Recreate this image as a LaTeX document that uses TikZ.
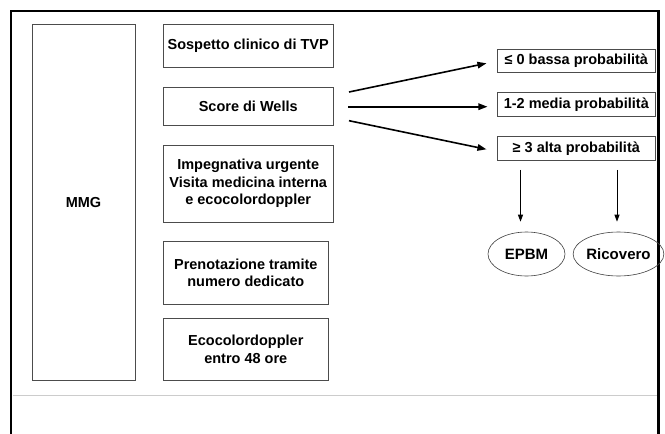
\documentclass[tikz,border=0pt]{standalone}
\usepackage{fontspec}
\setmainfont{Liberation Sans}
\usetikzlibrary{calc,arrows.meta,shapes.geometric}
\begin{document}
\begin{tikzpicture}[x=1pt,y=-1pt,
  boxnode/.style={draw=black!70,line width=0.9pt,rectangle,inner sep=0pt,align=center,
    font=\fontsize{14.5}{17.5}\selectfont\bfseries},
  ovalnode/.style={draw=black!75,line width=0.6pt,ellipse,inner sep=0pt,
    minimum width=77pt,minimum height=44pt,font=\fontsize{15}{18}\selectfont\bfseries},
  diagarrow/.style={line width=1.6pt,-{Triangle[length=9pt,width=6.5pt]}},
  downarrow/.style={line width=1pt,-{Triangle[length=7pt,width=5pt]}}]
\useasboundingbox (0,0) rectangle (665,434);
% frame
\draw[line width=2.5pt] (11.2,440) -- (11.2,11.2) -- (658.5,11.2) -- (658.5,440);
\draw[black!20,line width=1pt] (12.5,395.3) -- (657.2,395.3);
% left column
\node[boxnode,minimum width=103pt,minimum height=356pt] (mmg) at (83.5,202.5) {MMG};
\node[boxnode,minimum width=169.7pt,minimum height=43pt] (sosp) at (248.2,45.8) {Sospetto clinico di TVP};
\node[boxnode,minimum width=169.7pt,minimum height=38.4pt] (score) at (248.2,106.5) {Score di Wells};
\node[boxnode,minimum width=169.7pt,minimum height=77.3pt] (imp) at (248.2,183.7) {Impegnativa urgente\\Visita medicina interna\\e ecocolordoppler};
\node[boxnode,minimum width=165pt,minimum height=62.7pt] (pren) at (245.8,272.7) {Prenotazione tramite\\numero dedicato};
\node[boxnode,minimum width=165pt,minimum height=62.4pt] (eco) at (245.8,349.5) {Ecocolordoppler\\entro 48 ore};
% right column
\node[boxnode,minimum width=157.8pt,minimum height=23.3pt] (low) at (576.3,60.7) {≤ 0 bassa probabilità};
\node[boxnode,minimum width=157.8pt,minimum height=24pt] (mid) at (576.3,104.7) {1-2 media probabilità};
\node[boxnode,minimum width=157.8pt,minimum height=24pt] (high) at (576.3,148.3) {≥ 3 alta probabilità};
\node[ovalnode] (epbm) at (526.5,254) {EPBM};
\node[ovalnode] (ric) at (618.5,254) {Ricovero};
% arrows
\draw[diagarrow] ($(score.east)+(15.5,-14.5)$) -- ($(low.west)+(-10.5,2.6)$);
\draw[diagarrow] ($(score.east)+(14.7,0.2)$) -- ($(mid.west)+(-9.5,2)$);
\draw[diagarrow] ($(score.east)+(15.5,14.2)$) -- ($(high.west)+(-10.5,1)$);
\draw[downarrow] ($(high.south -| epbm.north)+(-6,9)$) -- ($(epbm.north)+(-6,-10)$);
\draw[downarrow] ($(high.south -| ric.north)+(-1.5,9)$) -- ($(ric.north)+(-1.5,-10)$);
\end{tikzpicture}
\end{document}
